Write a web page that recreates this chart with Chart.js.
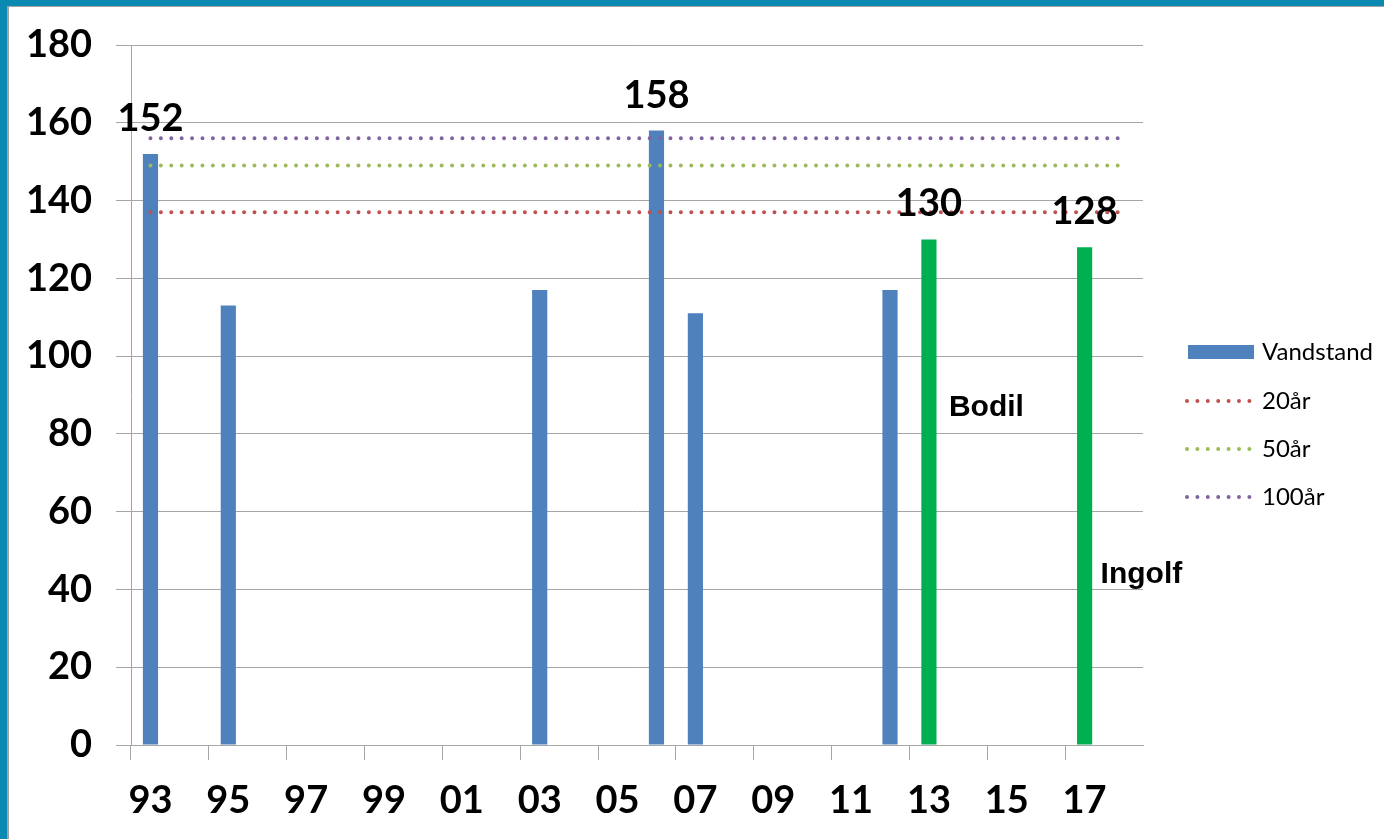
<!DOCTYPE html>
<html>
<head>
<meta charset="utf-8">
<script src="https://cdn.jsdelivr.net/npm/chart.js@4.4.1/dist/chart.umd.min.js"></script>
<style>
  html, body { margin: 0; padding: 0; background: #0a89b3; overflow: hidden; }
  #panel {
    position: absolute; left: 7px; top: 6px; width: 1377px; height: 833px;
    background: #fff; border-left: 2px solid #a3a3a3; border-top: 1px solid #a3a3a3;
  }
  #chart { display: block; }
</style>
</head>
<body>
<div id="panel"><canvas id="chart" width="1375" height="832"></canvas></div>
<script>
// years on the category axis (1993 - 2018)
const years = ['93','94','95','96','97','98','99','00','01','02','03','04','05','06','07','08','09','10','11','12','13','14','15','16','17','18'];

// highest water level per year (cm)
const vandstand = [152,null,113,null,null,null,null,null,null,null,117,null,null,158,111,null,null,null,null,117,130,null,null,null,128,null];

// storm years drawn in green
const stormYears = ['13','17'];
// bars that carry a value label
const labelYears = ['93','06','13','17'];

// return level lines
const line20 = [137,137,137,137,137,137,137,137,137,137,137,137,137,137,137,137,137,137,137,137,137,137,137,137,137,137];
const line50 = [149,149,149,149,149,149,149,149,149,149,149,149,149,149,149,149,149,149,149,149,149,149,149,149,149,149];
const line100 = [156,156,156,156,156,156,156,156,156,156,156,156,156,156,156,156,156,156,156,156,156,156,156,156,156,156];

const yTicks = [0,20,40,60,80,100,120,140,160,180];

// storm names next to the green bars
const stormNames = [
    { text: 'Bodil', year: '13', value: 84.6, dx: 20 },
    { text: 'Ingolf', year: '17', value: 41.7, dx: 16 }
];

const BLUE = '#4f81bd';
const GREEN = '#00b050';
const GRID = '#a6a6a6';
const AXIS_FONT = { family: 'Lato', size: 38, weight: 'bold' };

const barColors = years.map(y => stormYears.includes(y) ? GREEN : BLUE);

function dotted(label, data, color) {
    return {
        type: 'line',
        label: label,
        data: data,
        borderColor: color,
        backgroundColor: color,
        borderWidth: 4,
        borderDash: [0, 10.4],
        borderCapStyle: 'round',
        pointRadius: 0,
        fill: false,
        order: 1
    };
}

// value labels, storm names and the legend
const extras = {
    id: 'extras',
    afterDatasetsDraw(chart) {
        const ctx = chart.ctx;
        const meta = chart.getDatasetMeta(0);
        const x = chart.scales.x, y = chart.scales.y;
        ctx.save();
        ctx.fillStyle = '#000';
        ctx.font = 'bold 38px Lato';
        ctx.textAlign = 'center';
        ctx.textBaseline = 'alphabetic';
        years.forEach((yr, i) => {
            if (!labelYears.includes(yr)) return;
            const bar = meta.data[i];
            ctx.fillText(String(vandstand[i]), bar.x, bar.y - 23);
        });
        ctx.font = 'bold 30px "Liberation Sans"';
        ctx.textAlign = 'left';
        stormNames.forEach(n => {
            ctx.fillText(n.text, x.getPixelForValue(years.indexOf(n.year)) + n.dx, y.getPixelForValue(n.value));
        });
        ctx.restore();
    },
    afterDraw(chart) {
        const ctx = chart.ctx;
        const left = 1179, textX = 1253;
        const rows = [345, 394, 442, 490];
        ctx.save();
        chart.data.datasets.forEach((ds, i) => {
            const cy = rows[i];
            if (ds.type === 'bar' || !ds.type) {
                ctx.fillStyle = BLUE;
                ctx.fillRect(left, cy - 7, 66, 14);
            } else {
                ctx.strokeStyle = ds.borderColor;
                ctx.lineWidth = 4;
                ctx.lineCap = 'round';
                ctx.setLineDash([0, 10.4]);
                ctx.beginPath();
                ctx.moveTo(left - 1, cy);
                ctx.lineTo(left + 64, cy);
                ctx.stroke();
                ctx.setLineDash([]);
            }
            ctx.fillStyle = '#000';
            ctx.font = '24px Lato';
            ctx.textAlign = 'left';
            ctx.textBaseline = 'middle';
            ctx.fillText(ds.label, textX, cy);
        });
        ctx.restore();
    }
};

new Chart(document.getElementById('chart'), {
    data: {
        labels: years,
        datasets: [
            {
                type: 'bar',
                label: 'Vandstand',
                data: vandstand,
                backgroundColor: barColors,
                borderWidth: 0,
                categoryPercentage: 1,
                barPercentage: 0.39,
                order: 2
            },
            dotted('20år', line20, '#c0504d'),
            dotted('50år', line50, '#9bbb59'),
            dotted('100år', line100, '#8064a2')
        ]
    },
    options: {
        responsive: false,
        animation: false,
        layout: { padding: { top: 38, right: 241, left: 0, bottom: 0 } },
        plugins: { legend: { display: false }, tooltip: { enabled: false } },
        scales: {
            x: {
                offset: true,
                grid: {
                    offset: true,
                    drawOnChartArea: false,
                    drawTicks: true,
                    tickLength: 15,
                    color: ctx => ctx.index % 2 === 0 ? GRID : 'rgba(0,0,0,0)'
                },
                border: { color: GRID },
                ticks: {
                    autoSkip: false,
                    maxRotation: 0,
                    color: '#000',
                    font: AXIS_FONT,
                    padding: 18,
                    callback: (v, i) => i % 2 === 0 ? years[i] : ''
                },
                afterFit: s => { s.height = 94; s.paddingLeft = 0; s.paddingRight = 0; }
            },
            y: {
                min: 0,
                max: 180,
                afterBuildTicks: s => { s.ticks = yTicks.map(v => ({ value: v })); },
                grid: { color: GRID, tickLength: 15 },
                border: { color: GRID },
                ticks: { color: '#000', font: AXIS_FONT, padding: 24 },
                afterFit: s => { s.width = 122; s.paddingTop = 0; s.paddingBottom = 0; }
            }
        }
    },
    plugins: [extras]
});
</script>
</body>
</html>
